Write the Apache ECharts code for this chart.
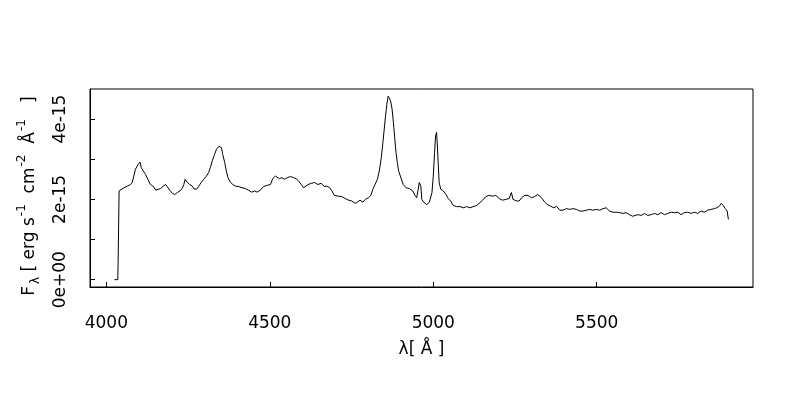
<!DOCTYPE html>
<html>
<head>
<meta charset="utf-8">
<script src="https://cdn.jsdelivr.net/npm/echarts@6/dist/echarts.min.js"></script>
<style>html,body{margin:0;padding:0;background:#fff;}#c{width:800px;height:400px;}</style>
</head>
<body>
<div id="c"></div>
<script>
// wavelength (Angstrom)
const wavelength = [4025,4035,4036,4038,4039,4044,4054,4064,4074,4079,4084,4089,4097,4103,4107,4113,4120,4127,4135,4144,4151,4158,4166,4174,4181,4186,4194,4202,4209,4217,4225,4232,4237,4241,4247,4255,4263,4267,4276,4283,4290,4298,4306,4313,4318,4324,4331,4337,4344,4346,4352,4356,4362,4367,4372,4379,4387,4395,4405,4415,4425,4435,4444,4454,4461,4471,4481,4492,4502,4509,4517,4522,4529,4537,4545,4553,4563,4573,4580,4588,4596,4603,4608,4617,4627,4637,4647,4657,4667,4675,4683,4690,4697,4710,4720,4731,4741,4751,4761,4768,4776,4785,4792,4802,4809,4815,4822,4829,4835,4841,4846,4850,4854,4858,4862,4866,4870,4874,4878,4882,4886,4890,4894,4901,4908,4917,4927,4937,4944,4949,4954,4957,4962,4965,4972,4980,4988,4996,5000,5004,5007,5010,5012,5015,5018,5023,5031,5039,5046,5053,5061,5071,5082,5092,5102,5112,5122,5133,5143,5151,5161,5171,5181,5191,5202,5212,5222,5232,5239,5244,5255,5263,5270,5280,5290,5300,5310,5319,5326,5333,5341,5349,5359,5369,5377,5387,5397,5407,5417,5427,5438,5448,5458,5468,5478,5488,5499,5509,5519,5529,5534,5539,5549,5560,5570,5580,5590,5600,5610,5616,5626,5636,5646,5656,5667,5677,5687,5697,5707,5717,5728,5738,5748,5758,5768,5778,5789,5799,5809,5819,5829,5839,5850,5860,5867,5875,5881,5887,5893,5899,5902,5903];
// flux in units of 1e-15 erg s^-1 cm^-2 A^-1
const flux = [0,0,0.42,0.42,2.21,2.25,2.29,2.33,2.37,2.42,2.58,2.75,2.87,2.93,2.79,2.71,2.62,2.50,2.37,2.32,2.23,2.25,2.27,2.33,2.37,2.33,2.23,2.15,2.12,2.17,2.21,2.27,2.37,2.50,2.43,2.37,2.33,2.27,2.25,2.33,2.42,2.50,2.58,2.67,2.79,2.96,3.12,3.25,3.32,3.33,3.29,3.12,2.92,2.71,2.54,2.43,2.37,2.33,2.32,2.29,2.27,2.23,2.18,2.21,2.18,2.23,2.32,2.35,2.37,2.52,2.58,2.62,2.52,2.54,2.50,2.54,2.57,2.54,2.52,2.46,2.37,2.29,2.25,2.37,2.40,2.42,2.37,2.40,2.32,2.33,2.29,2.21,2.10,2.08,2.07,2.02,1.98,1.96,1.90,1.93,1.98,1.93,2.00,2.04,2.10,2.25,2.37,2.50,2.71,3.04,3.42,3.75,4.08,4.37,4.57,4.52,4.43,4.25,3.92,3.54,3.17,2.92,2.71,2.54,2.37,2.29,2.27,2.21,2.10,2.04,2.25,2.42,2.33,2.00,1.92,1.87,1.93,2.17,2.58,3.17,3.58,3.67,3.42,2.92,2.42,2.25,2.21,2.12,2.02,1.96,1.85,1.82,1.82,1.79,1.82,1.79,1.82,1.85,1.92,1.98,2.07,2.10,2.08,2.10,2.02,1.98,2.00,2.02,2.17,2.00,1.96,1.96,2.04,2.10,2.10,2.04,2.07,2.12,2.08,2.02,1.93,1.87,1.83,1.79,1.83,1.73,1.73,1.77,1.75,1.77,1.75,1.71,1.71,1.73,1.75,1.73,1.75,1.73,1.77,1.79,1.83,1.71,1.68,1.68,1.67,1.65,1.67,1.62,1.58,1.60,1.62,1.60,1.65,1.60,1.62,1.65,1.62,1.67,1.62,1.65,1.68,1.67,1.68,1.62,1.67,1.68,1.65,1.68,1.65,1.71,1.68,1.73,1.75,1.77,1.79,1.83,1.90,1.85,1.77,1.71,1.54,1.50];

const xTicks = [4000, 4500, 5000, 5500];
const yTicks = [0, 1, 2, 3, 4];
const yLabelValues = [0, 2, 4];
const yLabelTexts = ['0e+00', '2e-15', '4e-15'];

const FONT = 'DejaVu Sans';
const chart = echarts.init(document.getElementById('c'), null, {renderer: 'canvas'});
const pts = wavelength.map((w, i) => [w, flux[i]]);

chart.setOption({
  animation: false,
  backgroundColor: '#fff',
  grid: {left: 90, right: 47, top: 89, bottom: 113, show: true, borderColor: '#000', borderWidth: 1},
  xAxis: {
    type: 'value', min: 3950, max: 5978,
    axisLine: {show: true, onZero: false, lineStyle: {color: '#000', width: 1}},
    axisTick: {show: true, inside: true, length: 5, customValues: xTicks, lineStyle: {color: '#000'}},
    axisLabel: {customValues: xTicks, color: '#000', fontSize: 17, fontFamily: FONT, margin: 28,
      formatter: v => String(v)},
    splitLine: {show: false},
    name: 'λ[ Å ]', nameLocation: 'middle', nameGap: 54,
    nameTextStyle: {color: '#000', fontSize: 17, fontFamily: FONT}
  },
  yAxis: {
    type: 'value', min: -0.183, max: 4.75,
    axisLine: {show: true, onZero: false, lineStyle: {color: '#000', width: 1}},
    axisTick: {show: true, inside: true, length: 5, customValues: yTicks, lineStyle: {color: '#000'}},
    axisLabel: {
      customValues: yLabelValues, rotate: 90, color: '#000', fontSize: 17, fontFamily: FONT, margin: 21,
      formatter: v => { const i = yLabelValues.indexOf(Math.round(v)); return i >= 0 ? yLabelTexts[i] : ''; }
    },
    splitLine: {show: false},
    name: '{m|F}{sub|λ}{m| [ erg s}{sup|-1}{m|  cm}{sup|-2}{m|  Å}{sup|-1}{m|   ]}',
    nameLocation: 'middle', nameRotate: 90, nameGap: 46,
    nameTextStyle: {
      color: '#000', fontSize: 17, fontFamily: FONT, padding: [0, 16, 0, 0],
      rich: {
        m: {fontSize: 17, fontFamily: FONT, color: '#000'},
        sub: {fontSize: 12, fontFamily: FONT, color: '#000', padding: [12, 0, 0, 2]},
        sup: {fontSize: 12, fontFamily: FONT, color: '#000', padding: [0, 0, 16, 1]}
      }
    }
  },
  series: [{
    type: 'line', data: pts, showSymbol: false, symbol: 'none',
    lineStyle: {color: '#000', width: 1}, smooth: false
  }]
});
</script>
</body>
</html>
